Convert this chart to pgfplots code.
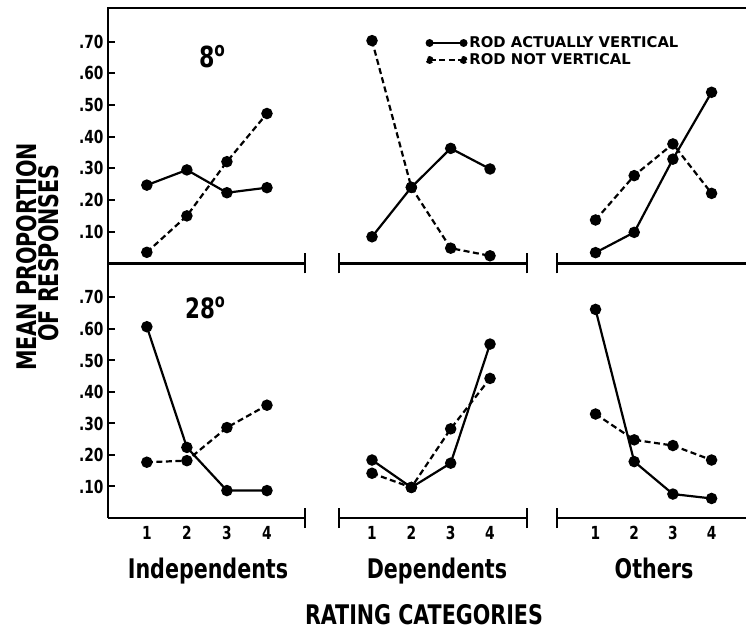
\documentclass[border=0pt]{standalone}
\usepackage{pgfplots}
\pgfplotsset{compat=1.18}
\usepackage{fontspec}
\setmainfont{DejaVu Sans Condensed}
\newfontfamily\cond{DejaVu Sans Condensed}[FakeStretch=0.85]
\newfontfamily\wide{DejaVu Sans}
\newcommand{\fs}[1]{\fontsize{#1}{#1}\selectfont}

\tikzset{endtick/.style={line width=2.5pt}}
\pgfplotsset{
  panel/.style={
    scale only axis, clip=false,
    axis x line*=bottom,
    ymin=0,
    xtick={1,2,3,4}, xticklabels={},
    axis line style={line width=2.5pt, black},
    x axis line style={-},
    xtick style={draw=none},
    xticklabel style={font=\cond\bfseries\fs{18}, yshift=-5pt},
    every axis plot/.append style={line width=2.2pt, mark=*, mark size=4.6pt, black},
  },
  toprow/.style={height=255.4pt, ymax=0.806},
  botrow/.style={height=254.6pt, ymax=0.808, xticklabels={1,2,3,4}},
  colA/.style={width=197pt, xmin=0.03, xmax=4.95,
    axis y line*=left,
    y axis line style={-},
    ytick={0.1,0.2,0.3,0.4,0.5,0.6,0.7},
    yticklabels={.10,.20,.30,.40,.50,.60,.70},
    yticklabel style={font=\cond\bfseries\fs{18}, xshift=-1pt},
    ytick style={line width=2pt, black},
    tick align=inside, major tick length=7pt},
  colB/.style={width=188pt, xmin=0.161, xmax=4.94, axis y line=none, ytick=\empty},
  colC/.style={width=189pt, xmin=0.004, xmax=4.89, axis y line=none, ytick=\empty},
  sl/.style={solid, mark options={solid}},
  dl/.style={dash pattern=on 6pt off 3.5pt, mark options={solid}},
}

\begin{document}
\begin{tikzpicture}
\useasboundingbox (0pt,0pt) rectangle (746pt,630pt);

% ---------- top row (8 deg) ----------
\begin{axis}[panel, toprow, colA, at={(108pt,366.6pt)}, anchor=south west]
  \addplot[sl] coordinates {(1,0.247)(2,0.295)(3,0.223)(4,0.239)};
  \addplot[dl] coordinates {(1,0.035)(2,0.150)(3,0.321)(4,0.473)};
  \draw[endtick] ([yshift=-10pt]rel axis cs:1,0) -- ([yshift=10pt]rel axis cs:1,0);
\end{axis}
\begin{axis}[panel, toprow, colB, at={(339pt,366.6pt)}, anchor=south west,
  legend style={at={(0.46,0.897)}, anchor=north west, draw=none, fill=none,
    inner sep=0pt, row sep=0pt,
    font=\wide\bfseries\fs{14.8},
    nodes={text height=11pt, text depth=2pt, inner sep=2pt}},
  legend cell align=left,
  legend image code/.code={
    \draw[#1, line width=1.6pt] (0pt,0pt) -- (34pt,0pt);
    \fill (0pt,0pt) circle (2.8pt);
    \fill (34pt,0pt) circle (2.8pt);}]
  \addplot[sl] coordinates {(1,0.084)(2,0.240)(3,0.363)(4,0.298)};
  \addlegendentry{ROD ACTUALLY VERTICAL}
  \addplot[dl] coordinates {(1,0.703)(2,0.240)(3,0.048)(4,0.024)};
  \addlegendentry{ROD NOT VERTICAL}
  \draw[endtick] ([yshift=-10pt]rel axis cs:0,0) -- ([yshift=10pt]rel axis cs:0,0);
  \draw[endtick] ([yshift=-10pt]rel axis cs:1,0) -- ([yshift=10pt]rel axis cs:1,0);
\end{axis}
\begin{axis}[panel, toprow, colC, at={(557pt,366.6pt)}, anchor=south west]
  \addplot[sl] coordinates {(1,0.034)(2,0.098)(3,0.329)(4,0.540)};
  \addplot[dl] coordinates {(1,0.137)(2,0.277)(3,0.377)(4,0.221)};
  \draw[endtick] ([yshift=-10pt]rel axis cs:0,0) -- ([yshift=10pt]rel axis cs:0,0);
\end{axis}

% ---------- bottom row (28 deg) ----------
\begin{axis}[panel, botrow, colA, at={(108pt,112pt)}, anchor=south west]
  \addplot[sl] coordinates {(1,0.607)(2,0.224)(3,0.087)(4,0.087)};
  \addplot[dl] coordinates {(1,0.177)(2,0.182)(3,0.287)(4,0.358)};
  \draw[endtick] ([yshift=-10pt]rel axis cs:1,0) -- ([yshift=10pt]rel axis cs:1,0);
\end{axis}
\begin{axis}[panel, botrow, colB, at={(339pt,112pt)}, anchor=south west]
  \addplot[sl] coordinates {(1,0.184)(2,0.097)(3,0.174)(4,0.552)};
  \addplot[dl] coordinates {(1,0.142)(2,0.097)(3,0.283)(4,0.443)};
  \draw[endtick] ([yshift=-10pt]rel axis cs:0,0) -- ([yshift=10pt]rel axis cs:0,0);
  \draw[endtick] ([yshift=-10pt]rel axis cs:1,0) -- ([yshift=10pt]rel axis cs:1,0);
\end{axis}
\begin{axis}[panel, botrow, colC, at={(557pt,112pt)}, anchor=south west]
  \addplot[sl] coordinates {(1,0.662)(2,0.179)(3,0.076)(4,0.062)};
  \addplot[dl] coordinates {(1,0.330)(2,0.248)(3,0.230)(4,0.184)};
  \draw[endtick] ([yshift=-10pt]rel axis cs:0,0) -- ([yshift=10pt]rel axis cs:0,0);
\end{axis}

% top border line
\draw[line width=2.5pt] (107pt,622pt) -- (746pt,622pt);

% panel titles
\node[anchor=base, font=\cond\bfseries\fs{29}] at (212pt,562pt) {8\raisebox{0.38em}{\fs{20}o}};
\node[anchor=base, font=\cond\bfseries\fs{28}] at (205pt,312pt) {28\raisebox{0.38em}{\fs{19}o}};

% y label
\node[rotate=90, font=\cond\bfseries\fs{27}] at (27pt,373pt) {MEAN PROPORTION};
\node[rotate=90, font=\cond\bfseries\fs{27}] at (49pt,377pt) {OF RESPONSES};

% group labels
\node[anchor=base, font=\cond\bfseries\fs{27}] at (208pt,52pt) {Independents};
\node[anchor=base, font=\cond\bfseries\fs{27}] at (437pt,52pt) {Dependents};
\node[anchor=base, font=\cond\bfseries\fs{27}] at (654pt,52pt) {Others};

% x title
\node[anchor=base, font=\cond\bfseries\fs{27}] at (424pt,6pt) {RATING CATEGORIES};
\end{tikzpicture}
\end{document}
